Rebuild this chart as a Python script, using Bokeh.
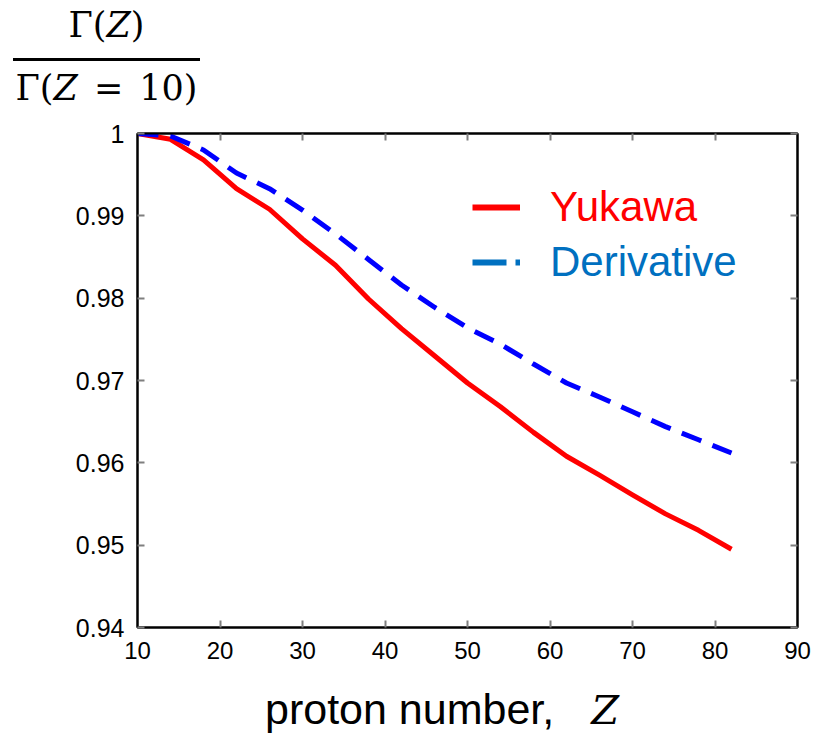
import math
from bokeh.plotting import figure
from bokeh.layouts import column
from bokeh.models import (ColumnDataSource, FixedTicker, CustomJSTickFormatter, LinearAxis,
                          Legend, LegendItem, Range1d, Div)
from bokeh.embed import file_html
from bokeh.resources import INLINE

# ---- data ----
Z = [10, 14, 18, 22, 26, 30, 34, 38, 42, 46, 50, 54, 58, 62, 66, 70, 74, 78, 82]
yukawa = [1.0, 0.9993, 0.9968, 0.9933, 0.9908, 0.9872, 0.9840, 0.9799, 0.9763, 0.9730,
          0.9697, 0.9668, 0.9637, 0.9608, 0.9585, 0.9561, 0.9538, 0.9518, 0.9495]
derivative = [1.0, 0.9997, 0.9980, 0.9952, 0.9933, 0.9907, 0.9878, 0.9847, 0.9816, 0.9789,
              0.9764, 0.9744, 0.9720, 0.9697, 0.9680, 0.9662, 0.9644, 0.9628, 0.9612]
x_ticks = [10, 20, 30, 40, 50, 60, 70, 80, 90]
y_ticks = [0.94, 0.95, 0.96, 0.97, 0.98, 0.99, 1.0]
series_names = ["Yukawa", "Derivative"]
x_title = "proton number,"
x_title_var = "Z"
y_num = ("Γ(", "Z", ")")
y_den = ("Γ(", "Z", " = 10)")

W = 815

# ---------- top strip: y-quantity written as a fraction ----------
serif = "font-family:'DejaVu Serif',serif;font-size:35px;line-height:35px;color:#000;"
top_html = (
    "<div style='position:relative;width:%dpx;height:112px;'>" % W
    + "<div style=\"position:absolute;left:13px;top:8px;width:187px;text-align:center;%s\">"
      "%s<i>%s</i>%s</div>" % (serif, *y_num)
    + "<div style='position:absolute;left:13px;top:58px;width:187px;height:0;"
      "border-top:3px solid #000;'></div>"
    + "<div style=\"position:absolute;left:13px;top:71px;width:187px;text-align:center;"
      "word-spacing:5px;%s\">%s<i>%s</i>%s</div>" % (serif, *y_den)
    + "</div>"
)
top = Div(text=top_html, width=W, height=112, margin=0)

# ---------- main chart ----------
src = ColumnDataSource(dict(z=Z, yuk=yukawa, der=derivative))

p = figure(frame_width=660, frame_height=494, output_backend="svg", toolbar_location=None,
           x_range=Range1d(10, 90), y_range=Range1d(0.94, 1.0),
           min_border_left=137, min_border_top=21, min_border_right=18, min_border_bottom=42,
           x_axis_location=None, y_axis_location=None)
p.grid.visible = False
p.outline_line_color = "black"
p.outline_line_width = 2

fmt = CustomJSTickFormatter(code="return (Math.round(tick*100)/100).toString();")

def mk_axis(ticks, show_labels, is_x):
    ax = LinearAxis(ticker=FixedTicker(ticks=ticks))
    ax.axis_line_color = "black"
    ax.axis_line_width = 2
    ax.major_tick_line_color = "#7f7f7f"
    ax.major_tick_line_width = 2
    ax.major_tick_in = 7
    ax.major_tick_out = 0
    ax.minor_tick_line_color = None
    ax.major_label_text_font = "Liberation Sans"
    ax.major_label_text_color = "black"
    if is_x:
        ax.major_label_text_font_size = "24px"
        ax.major_label_standoff = 14
    else:
        ax.major_label_text_font_size = "25px"
        ax.major_label_standoff = 13
        ax.formatter = fmt
    if not show_labels:
        ax.major_label_text_font_size = "1px"
        ax.major_label_text_color = None
        ax.major_label_text_alpha = 0
        ax.major_label_standoff = 0
    return ax

p.add_layout(mk_axis(x_ticks, True, True), "below")
p.add_layout(mk_axis(x_ticks, False, True), "above")
p.add_layout(mk_axis(y_ticks, True, False), "left")
p.add_layout(mk_axis(y_ticks, False, False), "right")

p.line("z", "yuk", source=src, line_color="#ff0000", line_width=5, line_join="round")
p.line("z", "der", source=src, line_color="#0000ff", line_width=5, line_dash="21 12")

# legend swatches (styled as in the reference legend)
nan_src = ColumnDataSource(dict(x=[math.nan], y=[math.nan]))
r_leg1 = p.line("x", "y", source=nan_src, line_color="#ff0000", line_width=6)
r_leg2 = p.line("x", "y", source=nan_src, line_color="#0070c0", line_width=6,
                line_dash="34 9 6 100")

for name, rend, col, loc in [(series_names[0], r_leg1, "#ff0000", (335, 396)),
                             (series_names[1], r_leg2, "#0070c0", (335, 341))]:
    lg = Legend(items=[LegendItem(label=name, renderers=[rend])], location=loc,
                glyph_width=48, glyph_height=40, label_height=40, label_standoff=30,
                padding=0, margin=0, spacing=0, border_line_color=None,
                background_fill_alpha=0, label_text_font="Liberation Sans",
                label_text_font_size="42px", label_text_color=col,
                label_text_baseline="middle")
    p.add_layout(lg, "center")

# ---------- bottom strip: x-axis title ----------
bot_html = (
    "<div style='position:relative;width:%dpx;height:66px;'>" % W
    + "<div style=\"position:absolute;left:265px;top:19px;white-space:nowrap;"
      "font-family:'Liberation Sans',Arial,sans-serif;font-size:43px;line-height:43px;color:#000;\">"
      "%s<span style=\"font-family:'DejaVu Serif',serif;font-style:italic;font-size:40px;"
      "margin-left:37px;\">%s</span></div>" % (x_title, x_title_var)
    + "</div>"
)
bot = Div(text=bot_html, width=W, height=66, margin=0)

layout = column(top, p, bot, spacing=0)
open("out.html", "w").write(file_html(layout, INLINE))
